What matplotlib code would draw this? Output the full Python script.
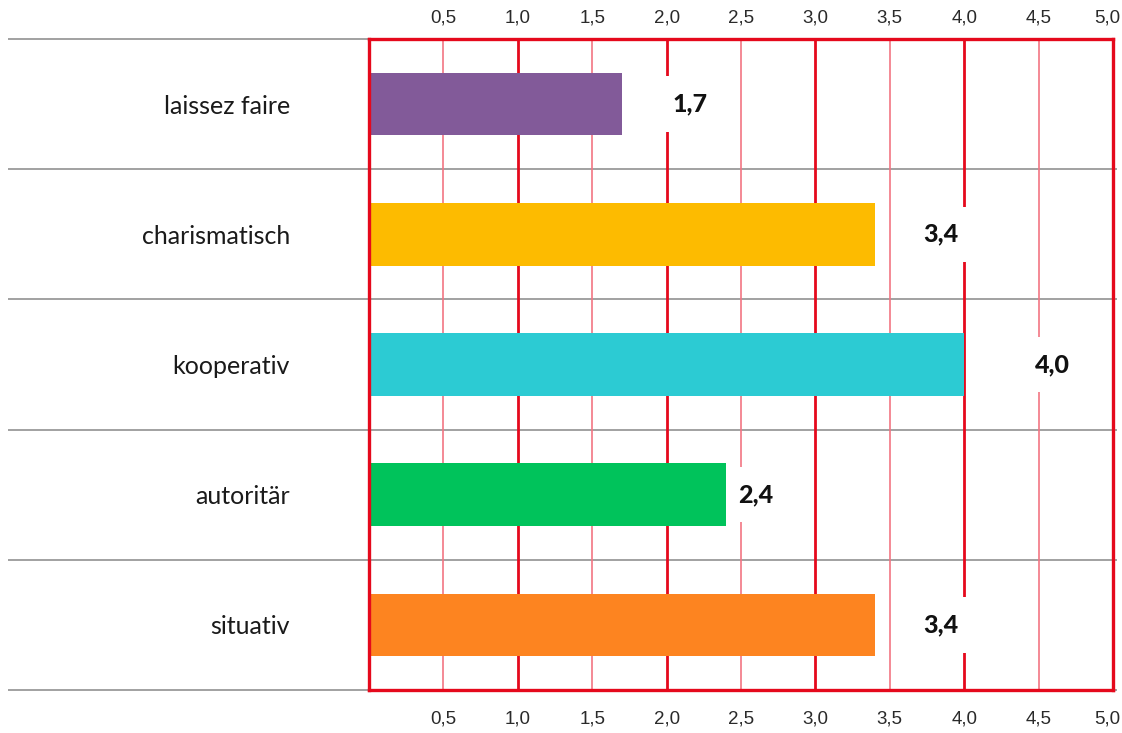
import matplotlib
matplotlib.use("Agg")
import matplotlib.pyplot as plt
from matplotlib.transforms import blended_transform_factory, ScaledTranslation

# Data
categories = ["laissez faire", "charismatisch", "kooperativ", "autoritär", "situativ"]
values = [1.7, 3.4, 4.0, 2.4, 3.4]
value_labels = ["1,7", "3,4", "4,0", "2,4", "3,4"]
bar_colors = ["#825a99", "#fdbb00", "#2ccbd3", "#00c35b", "#fd8420"]
label_x = [2.16, 3.84, 4.59, 2.60, 3.84]   # horizontal anchor of the value labels
tick_values = [0.5, 1.0, 1.5, 2.0, 2.5, 3.0, 3.5, 4.0, 4.5, 5.0]
tick_labels = ["0,5", "1,0", "1,5", "2,0", "2,5", "3,0", "3,5", "4,0", "4,5", "5,0"]

W, H = 1122, 733
fig = plt.figure(figsize=(W / 100, H / 100), dpi=100)
ax = fig.add_axes([369 / W, 1 - 690 / H, (1113 - 369) / W, (690 - 39) / H])

RED = "#e5091c"
PINK = "#f27583"
n = len(categories)
ypos = list(range(n))

ax.set_xlim(0, 5.0)
ax.set_ylim(n - 0.5, -0.5)

# Vertical grid: strong lines on whole numbers, lighter ones on halves
for t in tick_values:
    if abs(t - round(t)) < 1e-9:
        ax.axvline(t, color=RED, lw=2.0, zorder=1)
    else:
        ax.axvline(t, color=PINK, lw=1.2, zorder=1)

# Grey row separators reaching into the label area
trans = blended_transform_factory(ax.transAxes, ax.transData)
for i in range(n + 1):
    y = i - 0.5
    x0 = -0.485
    x1 = 0.0 if i == 0 else 1.006
    ax.plot([x0, x1], [y, y], color="#9a9a9a", lw=1.3, transform=trans,
            clip_on=False, zorder=0.5, solid_capstyle="butt")

# Bars
ax.barh(ypos, values, height=0.48, color=bar_colors, zorder=3)

# Value labels on white patches that break the grid
for y, xl, txt in zip(ypos, label_x, value_labels):
    ax.text(xl, y, txt, ha="center", va="center", fontsize=18,
            fontweight="black", family=["Lato", "DejaVu Sans"],
            color="#111111", zorder=2,
            bbox=dict(boxstyle="square,pad=0.65", facecolor="white",
                      edgecolor="none"))

# Red frame
for side in ["left", "right", "top", "bottom"]:
    ax.spines[side].set_color(RED)
    ax.spines[side].set_linewidth(2.4)
    ax.spines[side].set_zorder(4)

# Category labels
ax.set_yticks(ypos)
ax.set_yticklabels(categories, fontsize=18,
                   family=["Lato", "DejaVu Sans"], color="#1a1a1a")
ax.tick_params(axis="y", length=0, pad=57)

# Scale labels at top and bottom
tick_font = dict(fontsize=13.5, family=["Liberation Sans", "DejaVu Sans"],
                 color="#2a2a2a")
ax.set_xticks(tick_values)
ax.set_xticklabels(tick_labels, **tick_font)
ax.tick_params(axis="x", length=0, pad=15)

top = ax.secondary_xaxis("top")
top.set_xticks(tick_values)
top.set_xticklabels(tick_labels, **tick_font)
top.tick_params(axis="x", length=0, pad=9)
top.spines["top"].set_visible(False)

# Nudge the outermost scale label inwards so it stays on the canvas
shift = ScaledTranslation(-6 / 100, 0, fig.dpi_scale_trans)
for axis in (ax.xaxis, top.xaxis):
    for lbl in axis.get_ticklabels():
        if lbl.get_text() == tick_labels[-1]:
            lbl.set_transform(lbl.get_transform() + shift)

fig.savefig("out.png", dpi=100, facecolor="white")
